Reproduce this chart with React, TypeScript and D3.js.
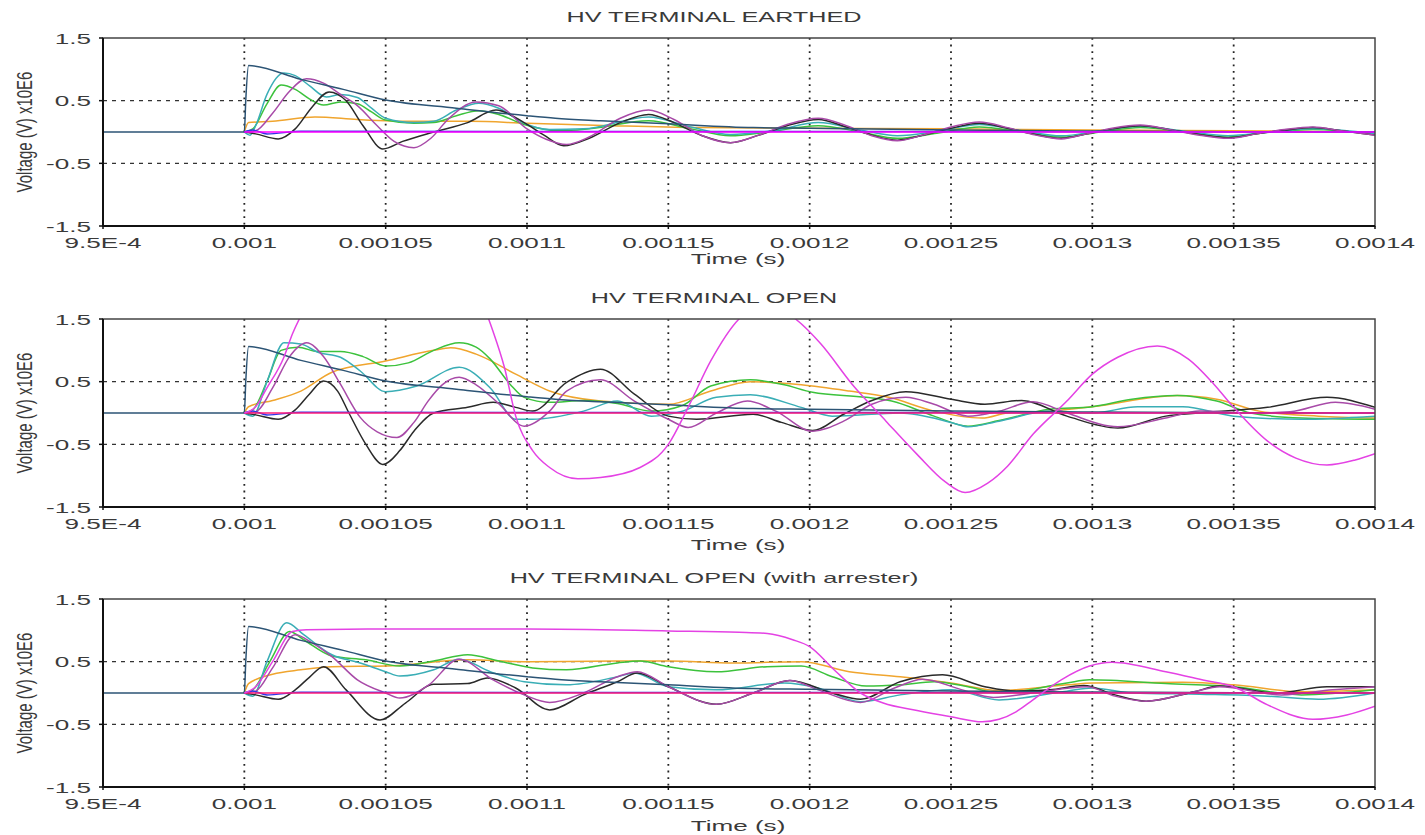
import * as d3 from 'd3';

// time in microseconds, voltage in MV (x10E6 V)
const xTicks = [950, 1000, 1050, 1100, 1150, 1200, 1250, 1300, 1350, 1400];
const xTickLabels = ['9.5E-4', '0.001', '0.00105', '0.0011', '0.00115', '0.0012', '0.00125', '0.0013', '0.00135', '0.0014'];
const yTicks = [1.5, 0.5, -0.5, -1.5];
const yTickLabels = ['1.5', '0.5', '-0.5', '-1.5'];
const panelTitles = ['HV TERMINAL EARTHED', 'HV TERMINAL OPEN', 'HV TERMINAL OPEN (with arrester)'];

type Pt = [number, number];

// applied impulse (same in all three cases)
const sourceImpulse: Pt[] = [[950, 0], [1000, 0], [1000.5, 0.5], [1001.5, 1.06], [1020, 0.84], [1035, 0.68], [1050, 0.51], [1075, 0.38], [1100, 0.26], [1110, 0.22], [1126, 0.18], [1150, 0.13], [1180, 0.07], [1200, 0.06], [1250, 0.03], [1300, 0.015], [1350, 0.005], [1400, 0]];
const flatZero: Pt[] = [[1000, 0], [1400, 0]];
const flatBlue: Pt[] = [[1000, 0], [1003, 0.03], [1008, -0.03], [1020, 0.01], [1400, 0]];

// HV terminal earthed
const earthedTeal: Pt[] = [[1000, 0], [1002, -0.05], [1004, 0.1], [1008, 0.6], [1014, 0.94], [1018, 0.9], [1023, 0.74], [1029, 0.56], [1034, 0.6], [1040, 0.55], [1045, 0.38], [1050, 0.22], [1060, 0.15], [1067, 0.17], [1075, 0.35], [1083, 0.46], [1090, 0.38], [1099, 0.14], [1108, 0.04], [1120, 0.05], [1143, 0.24], [1158, 0.08], [1172, -0.04], [1188, 0.03], [1203, 0.15], [1218, 0.03], [1231, -0.06], [1246, 0.02], [1260, 0.12], [1275, 0.02], [1289, -0.06], [1303, 0.02], [1317, 0.09], [1333, 0.01], [1348, -0.06], [1363, 0], [1378, 0.05], [1400, -0.03]];
const earthedGreen: Pt[] = [[1000, 0], [1003, 0.05], [1008, 0.45], [1013, 0.75], [1018, 0.68], [1023, 0.53], [1028, 0.43], [1034, 0.48], [1040, 0.45], [1045, 0.32], [1050, 0.19], [1060, 0.14], [1067, 0.15], [1075, 0.26], [1083, 0.34], [1090, 0.28], [1099, 0.12], [1112, 0.02], [1122, 0.05], [1143, 0.18], [1158, 0.05], [1172, -0.06], [1185, 0], [1203, 0.1], [1218, 0], [1231, -0.1], [1245, -0.02], [1260, 0.08], [1275, 0], [1289, -0.08], [1303, 0], [1317, 0.07], [1333, 0], [1348, -0.08], [1363, 0], [1378, 0.04], [1400, -0.04]];
const earthedPurple: Pt[] = [[1000, 0], [1004, 0.02], [1010, 0.3], [1016, 0.65], [1022, 0.85], [1028, 0.78], [1034, 0.6], [1040, 0.42], [1047, 0.1], [1053, -0.15], [1060, -0.25], [1066, -0.1], [1072, 0.2], [1082, 0.48], [1090, 0.42], [1100, 0.05], [1107, -0.12], [1114, -0.2], [1122, -0.08], [1133, 0.22], [1143, 0.35], [1152, 0.2], [1162, -0.06], [1172, -0.17], [1182, -0.05], [1192, 0.12], [1203, 0.22], [1213, 0.1], [1222, -0.06], [1231, -0.14], [1240, -0.05], [1250, 0.08], [1260, 0.16], [1270, 0.07], [1280, -0.05], [1289, -0.11], [1298, -0.03], [1307, 0.06], [1317, 0.11], [1327, 0.04], [1338, -0.05], [1348, -0.1], [1358, -0.03], [1368, 0.04], [1378, 0.08], [1388, 0.02], [1400, -0.05]];
const earthedBlack: Pt[] = [[1000, 0], [1004, -0.03], [1012, -0.11], [1018, 0.05], [1024, 0.4], [1030, 0.64], [1036, 0.5], [1042, 0.1], [1049, -0.27], [1056, -0.15], [1067, 0], [1079, 0.15], [1089, 0.35], [1099, 0.15], [1106, -0.05], [1113, -0.22], [1122, -0.1], [1133, 0.15], [1143, 0.28], [1152, 0.15], [1162, -0.06], [1172, -0.17], [1182, -0.05], [1192, 0.1], [1203, 0.2], [1213, 0.08], [1222, -0.05], [1231, -0.13], [1241, -0.04], [1250, 0.06], [1260, 0.14], [1270, 0.06], [1280, -0.04], [1289, -0.1], [1298, -0.03], [1307, 0.05], [1317, 0.1], [1327, 0.04], [1338, -0.04], [1348, -0.09], [1358, -0.03], [1368, 0.03], [1378, 0.07], [1388, 0.02], [1400, -0.05]];
const earthedOrange: Pt[] = [[1000, 0], [1001.5, 0.15], [1010, 0.17], [1025, 0.24], [1040, 0.2], [1060, 0.17], [1080, 0.17], [1100, 0.14], [1130, 0.1], [1160, 0.07], [1200, 0.06], [1250, 0.05], [1300, 0.03], [1350, 0.02], [1400, 0]];

// HV terminal open
const openMagenta: Pt[] = [[1000, 0], [1004, 0.1], [1008, 0.4], [1014, 0.89], [1017, 1.26], [1020, 1.55], [1030, 2.2], [1053, 2.6], [1075, 2.2], [1086, 1.55], [1088, 1.3], [1092, 0.73], [1096, -0.05], [1102, -0.6], [1108, -0.87], [1118, -1.05], [1126, -1.03], [1140, -0.87], [1150, -0.5], [1157, 0.09], [1165, 0.83], [1175, 1.5], [1185, 1.75], [1195, 1.5], [1204, 1.1], [1215, 0.46], [1227, -0.13], [1238, -0.66], [1248, -1.1], [1255, -1.27], [1263, -1.12], [1270, -0.85], [1279, -0.34], [1291, 0.19], [1300, 0.62], [1309, 0.89], [1323, 1.07], [1334, 0.86], [1343, 0.46], [1350, 0.09], [1362, -0.45], [1372, -0.72], [1383, -0.83], [1393, -0.75], [1400, -0.65]];
const openGreen: Pt[] = [[1000, 0], [1003, 0.05], [1008, 0.5], [1013, 1.0], [1019, 1.05], [1026, 0.98], [1034, 0.98], [1042, 0.9], [1050, 0.75], [1058, 0.8], [1067, 1.0], [1076, 1.12], [1082, 1.05], [1087, 0.86], [1094, 0.46], [1099, 0.25], [1108, 0.17], [1120, 0.2], [1132, 0.15], [1144, 0.03], [1155, 0.12], [1165, 0.43], [1179, 0.53], [1191, 0.45], [1201, 0.33], [1220, 0.25], [1229, 0.19], [1244, -0.05], [1256, -0.21], [1267, -0.12], [1285, 0.06], [1300, 0.1], [1314, 0.22], [1330, 0.28], [1344, 0.19], [1356, 0], [1374, -0.08], [1400, -0.1]];
const openOrange: Pt[] = [[1000, 0], [1001.5, 0.1], [1010, 0.2], [1020, 0.35], [1031, 0.65], [1050, 0.83], [1067, 1.0], [1073, 1.04], [1082, 0.94], [1096, 0.62], [1108, 0.35], [1126, 0.19], [1150, 0.14], [1165, 0.35], [1179, 0.5], [1197, 0.45], [1214, 0.35], [1228, 0.25], [1244, 0.03], [1261, -0.08], [1270, 0], [1285, 0.03], [1300, 0.1], [1330, 0.28], [1344, 0.22], [1359, 0.03], [1380, -0.05], [1400, -0.08]];
const openTeal: Pt[] = [[1000, 0], [1003, -0.05], [1008, 0.5], [1014, 1.12], [1020, 1.1], [1026, 0.97], [1034, 0.89], [1041, 0.67], [1050, 0.34], [1061, 0.43], [1076, 0.73], [1087, 0.4], [1096, -0.1], [1102, -0.1], [1120, 0.03], [1132, 0.19], [1144, -0.05], [1155, 0.03], [1167, 0.25], [1179, 0.29], [1197, 0.09], [1208, -0.05], [1232, 0], [1250, -0.15], [1256, -0.22], [1267, -0.13], [1285, 0.03], [1300, 0], [1316, 0.1], [1332, 0.1], [1350, -0.05], [1374, -0.1], [1400, -0.05]];
const openPurple: Pt[] = [[1000, 0], [1004, 0.02], [1010, 0.4], [1016, 0.9], [1022, 1.12], [1028, 0.9], [1034, 0.46], [1041, -0.07], [1047, -0.3], [1054, -0.39], [1060, -0.15], [1065, 0.19], [1070, 0.45], [1076, 0.57], [1082, 0.45], [1090, 0.15], [1099, -0.21], [1108, 0.03], [1114, 0.35], [1126, 0.53], [1138, 0.19], [1150, -0.1], [1157, -0.23], [1167, 0], [1178, 0.19], [1188, 0.03], [1201, -0.29], [1212, -0.13], [1222, 0.14], [1234, 0.25], [1244, 0.14], [1256, -0.05], [1267, 0.03], [1279, 0.18], [1291, 0], [1309, -0.22], [1326, -0.08], [1338, 0.03], [1356, 0], [1370, 0.02], [1386, 0.17], [1400, 0.06]];
const openBlack: Pt[] = [[1000, 0], [1004, -0.03], [1012, -0.1], [1018, 0.05], [1023, 0.3], [1028, 0.51], [1033, 0.35], [1037, 0], [1043, -0.5], [1049, -0.82], [1055, -0.6], [1060, -0.29], [1067, 0], [1079, 0.09], [1088, 0.17], [1096, 0.09], [1102, 0.03], [1114, 0.49], [1126, 0.7], [1138, 0.3], [1150, -0.05], [1160, -0.1], [1180, -0.02], [1190, -0.15], [1201, -0.28], [1212, -0.02], [1222, 0.2], [1234, 0.34], [1250, 0.22], [1262, 0.14], [1275, 0.2], [1291, -0.05], [1309, -0.24], [1326, -0.05], [1338, 0], [1362, 0.09], [1383, 0.25], [1400, 0.09]];

// HV terminal open with arrester
const arresterMagenta: Pt[] = [[1000, 0], [1004, 0.1], [1010, 0.5], [1017, 0.98], [1022, 1.01], [1050, 1.02], [1100, 1.02], [1150, 0.99], [1175, 0.97], [1185, 0.95], [1194, 0.85], [1200, 0.74], [1208, 0.4], [1218, 0], [1226, -0.16], [1238, -0.28], [1250, -0.38], [1261, -0.46], [1267, -0.42], [1273, -0.3], [1279, -0.11], [1289, 0.21], [1299, 0.43], [1307, 0.49], [1326, 0.34], [1340, 0.2], [1350, 0.1], [1362, -0.19], [1378, -0.42], [1390, -0.35], [1400, -0.21]];
const arresterTeal: Pt[] = [[1000, 0], [1003, -0.05], [1008, 0.5], [1015, 1.12], [1021, 0.93], [1031, 0.61], [1041, 0.48], [1050, 0.34], [1055, 0.27], [1067, 0.37], [1076, 0.54], [1087, 0.34], [1099, 0.18], [1114, 0.13], [1132, 0.26], [1138, 0.32], [1150, 0.1], [1167, 0.05], [1191, 0.16], [1203, 0.08], [1218, -0.14], [1232, -0.03], [1250, 0.05], [1267, -0.11], [1291, 0.03], [1300, 0.08], [1314, 0], [1338, -0.02], [1362, -0.05], [1380, -0.1], [1400, 0]];
const arresterGreen: Pt[] = [[1000, 0], [1003, 0.05], [1009, 0.5], [1016, 0.98], [1021, 0.85], [1031, 0.59], [1043, 0.53], [1055, 0.43], [1067, 0.51], [1079, 0.61], [1090, 0.51], [1102, 0.4], [1114, 0.37], [1132, 0.48], [1140, 0.51], [1150, 0.42], [1167, 0.34], [1185, 0.42], [1197, 0.43], [1208, 0.26], [1220, 0.11], [1232, 0.13], [1244, 0.18], [1256, 0.1], [1267, 0], [1291, 0.16], [1299, 0.21], [1326, 0.15], [1350, 0.1], [1374, -0.03], [1400, 0.05]];
const arresterOrange: Pt[] = [[1000, 0], [1001.5, 0.15], [1010, 0.3], [1020, 0.37], [1031, 0.42], [1050, 0.43], [1079, 0.53], [1099, 0.5], [1132, 0.51], [1150, 0.51], [1173, 0.48], [1197, 0.5], [1214, 0.34], [1232, 0.26], [1250, 0.16], [1267, 0.04], [1291, 0.13], [1300, 0.16], [1332, 0.17], [1350, 0.13], [1374, 0.02], [1400, 0.05]];
const arresterPurple: Pt[] = [[1000, 0], [1004, 0.03], [1010, 0.4], [1018, 0.93], [1024, 0.8], [1031, 0.58], [1040, 0.21], [1050, 0], [1055, -0.08], [1065, 0.12], [1076, 0.54], [1088, 0.21], [1099, -0.03], [1108, -0.15], [1120, 0], [1132, 0.26], [1139, 0.34], [1150, 0.1], [1167, -0.18], [1180, 0], [1193, 0.2], [1203, 0.05], [1218, -0.15], [1230, 0.08], [1240, 0.22], [1254, 0.05], [1265, -0.07], [1279, 0], [1298, 0.1], [1308, -0.05], [1319, -0.13], [1336, 0.02], [1345, 0.1], [1367, -0.03], [1385, 0.05], [1400, 0.1]];
const arresterBlack: Pt[] = [[1000, 0], [1004, -0.03], [1012, -0.1], [1018, 0.05], [1023, 0.25], [1028, 0.42], [1036, 0.05], [1048, -0.43], [1057, -0.16], [1067, 0.14], [1079, 0.15], [1086, 0.24], [1096, 0.08], [1108, -0.27], [1120, -0.03], [1132, 0.18], [1139, 0.32], [1150, 0.1], [1167, -0.18], [1180, 0], [1193, 0.2], [1208, 0], [1218, -0.1], [1232, 0.18], [1247, 0.29], [1262, 0.1], [1273, 0.03], [1285, 0.05], [1297, 0.12], [1308, -0.03], [1319, -0.13], [1336, 0.02], [1345, 0.11], [1365, 0], [1383, 0.1], [1400, 0.1]];

const C = {
  navy: '#2c5475', teal: '#3aaeb6', green: '#3cc23c', purple: '#a84aa8',
  black: '#2a2a2a', orange: '#f0a52e', magenta: '#e442e4', pink: '#ff1e78',
  blue: '#3434e6', fuchsia: '#ff00ff',
};

const panels = [
  [
    { c: C.orange, d: earthedOrange }, { c: C.green, d: earthedGreen }, { c: C.teal, d: earthedTeal },
    { c: C.black, d: earthedBlack }, { c: C.purple, d: earthedPurple }, { c: C.navy, d: sourceImpulse },
    { c: C.blue, d: flatBlue }, { c: C.fuchsia, d: flatZero },
  ],
  [
    { c: C.orange, d: openOrange }, { c: C.green, d: openGreen }, { c: C.teal, d: openTeal },
    { c: C.black, d: openBlack }, { c: C.purple, d: openPurple }, { c: C.navy, d: sourceImpulse },
    { c: C.blue, d: flatBlue }, { c: C.pink, d: flatZero }, { c: C.magenta, d: openMagenta },
  ],
  [
    { c: C.orange, d: arresterOrange }, { c: C.green, d: arresterGreen }, { c: C.teal, d: arresterTeal },
    { c: C.black, d: arresterBlack }, { c: C.purple, d: arresterPurple }, { c: C.navy, d: sourceImpulse },
    { c: C.blue, d: flatBlue }, { c: C.pink, d: flatZero }, { c: C.magenta, d: arresterMagenta },
  ],
];

const W = 1425, H = 835;
const left = 103, right = 1375, plotH = 188;
const tops = [38, 319, 599];
const timeOffsets = [38, 43, 44];
const FONT = "Arial, 'Liberation Sans', sans-serif";
const SX = 1.8;
const txt = '#3a3a3a';

function Panel({ idx }: { idx: number }) {
  const top = tops[idx];
  const bottom = top + plotH;
  const x = d3.scaleLinear().domain([950, 1400]).range([left, right]);
  const y = d3.scaleLinear().domain([-1.5, 1.5]).range([bottom, top]);
  const line = d3.line<Pt>().x(p => x(p[0])).y(p => y(p[1])).curve(d3.curveMonotoneX);
  const clipId = `clip${idx}`;
  const mid = (top + bottom) / 2;
  return (
    <g>
      <defs>
        <clipPath id={clipId}><rect x={left} y={top} width={right - left} height={plotH} /></clipPath>
      </defs>
      <text transform={`translate(714,${top - 16}) scale(${SX},1)`} textAnchor="middle" fontSize={14} fill={txt} fontFamily={FONT}>{panelTitles[idx]}</text>
      {xTicks.slice(1, -1).map(t => (
        <line key={t} x1={x(t)} x2={x(t)} y1={top} y2={bottom} stroke="#222" strokeWidth={1.8} strokeDasharray="1.8,4.8" />
      ))}
      {[0.5, -0.5].map(v => (
        <line key={v} x1={left} x2={right} y1={y(v)} y2={y(v)} stroke="#333" strokeWidth={1.3} strokeDasharray="4,5" />
      ))}
      <g clipPath={`url(#${clipId})`}>
        {panels[idx].map((s, i) => (
          <path key={i} d={line(s.d) || ''} fill="none" stroke={s.c} strokeWidth={1.5} />
        ))}
      </g>
      <rect x={left} y={top} width={right - left} height={plotH} fill="none" stroke="#444" strokeWidth={1.5} />
      <line x1={left} x2={left} y1={top} y2={bottom} stroke="#111" strokeWidth={2} />
      <line x1={left} x2={right} y1={bottom} y2={bottom} stroke="#111" strokeWidth={2} />
      {yTicks.map((v, i) => (
        <g key={v}>
          <line x1={left - 4} x2={left} y1={y(v)} y2={y(v)} stroke="#111" strokeWidth={1.5} />
          <text transform={`translate(91,${y(v) + 5.5}) scale(${SX},1)`} textAnchor="end" fontSize={14.5} fill={txt} fontFamily={FONT}>{yTickLabels[i]}</text>
        </g>
      ))}
      {xTicks.map((t, i) => (
        <g key={t}>
          <line x1={x(t)} x2={x(t)} y1={bottom} y2={bottom + 3} stroke="#111" strokeWidth={1.5} />
          <text transform={`translate(${x(t)},${bottom + 22}) scale(${SX},1)`} textAnchor="middle" fontSize={14.5} fill={txt} fontFamily={FONT}>{xTickLabels[i]}</text>
        </g>
      ))}
      <text transform={`translate(738,${bottom + timeOffsets[idx]}) scale(${SX},1)`} textAnchor="middle" fontSize={14.5} fill={txt} fontFamily={FONT}>Time (s)</text>
      <text transform={`translate(32,${mid}) scale(1.45,1) rotate(-90)`} textAnchor="middle" fontSize={15} fill={txt} fontFamily={FONT}>Voltage (V) x10E6</text>
    </g>
  );
}

export default function App() {
  return (
    <svg width={W} height={H} style={{ position: 'absolute', left: 0, top: 0, background: '#fff' }}>
      <rect width={W} height={H} fill="#fff" />
      {[0, 1, 2].map(i => <Panel key={i} idx={i} />)}
    </svg>
  );
}
